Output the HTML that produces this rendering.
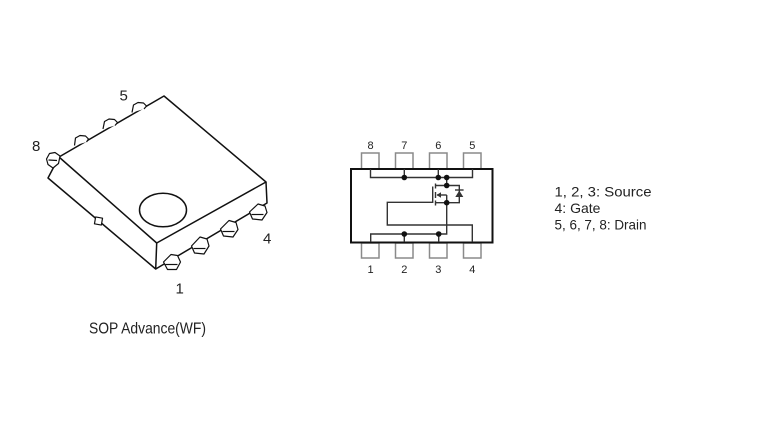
<!DOCTYPE html>
<html>
<head>
<meta charset="utf-8">
<style>
html,body{margin:0;padding:0;background:#fff;}
svg{display:block;}
</style>
</head>
<body>
<svg width="768" height="432" viewBox="0 0 768 432" xmlns="http://www.w3.org/2000/svg">
<rect width="768" height="432" fill="#fff"/>
<g fill="none" stroke="#111" stroke-width="1.5" stroke-linejoin="round">
  <polygon points="59,157 164,96 266,182 156.7,243" fill="#fff"/>
  <polyline points="59,157 48,178 155.7,269 156.7,243"/>
  <polyline points="266,182 267,203 155.7,269"/>
  <ellipse cx="163" cy="210" rx="23.5" ry="16.8"/>
</g>
<g fill="#fff" stroke="#111" stroke-width="1.2" stroke-linejoin="round">
  <path d="M74.5,145.5 L75.5,138 L80,135.5 L85.5,136 L88.5,139 L86.5,142"/>
  <path d="M103,129 L104.5,121.5 L109,119 L114.5,119.5 L117.5,122.5 L115,125.5"/>
  <path d="M132,112.5 L133.5,105 L138,102.5 L143.5,103 L146.5,106 L144,109"/>
  <path d="M46.5,159 L49.5,153.5 L55,152.5 L60,156 L58.5,163.5 L53,168 L48,164.5 Z"/>
  <line x1="48.5" y1="160" x2="57" y2="160.5"/>
  <rect x="95" y="217.5" width="7" height="7" transform="rotate(10 98.5 221)"/>
  <g>
    <path d="M163.5,262 L171,254.5 L177.5,255.5 L180.5,262 L176.5,269.5 L167.5,269.5 Z"/>
    <line x1="165.5" y1="264.5" x2="177.5" y2="264.5"/>
  </g>
  <g>
    <path d="M191.5,246 L200,237 L207,239 L209,246 L204,254 L194.5,253 Z"/>
    <line x1="193.5" y1="248.5" x2="205.5" y2="248.5"/>
  </g>
  <g>
    <path d="M220.5,229 L229,220.5 L236,222.5 L238,229.5 L233,237 L223.5,236 Z"/>
    <line x1="222.5" y1="231.5" x2="234.5" y2="231.5"/>
  </g>
  <g>
    <path d="M249.5,212 L258,204 L265,206 L267,212.5 L262,220 L252.5,219 Z"/>
    <line x1="251.5" y1="214.5" x2="263.5" y2="214.5"/>
  </g>
</g>
<g font-family="Liberation Sans, sans-serif" font-size="15" fill="#222">
  <text x="119.5" y="100.5">5</text>
  <text x="32" y="151">8</text>
  <text x="263" y="243.5">4</text>
  <text x="175.5" y="293.5">1</text>
</g>
<text x="89" y="333.5" font-family="Liberation Sans, sans-serif" font-size="16" fill="#222" textLength="117" lengthAdjust="spacingAndGlyphs">SOP Advance(WF)</text>

<g fill="#fff" stroke="#8a8a8a" stroke-width="1.5">
  <rect x="361.5" y="153" width="17.5" height="16"/>
  <rect x="395.5" y="153" width="17.5" height="16"/>
  <rect x="429.5" y="153" width="17.5" height="16"/>
  <rect x="463.5" y="153" width="17.5" height="16"/>
  <rect x="361.5" y="243" width="17.5" height="15"/>
  <rect x="395.5" y="243" width="17.5" height="15"/>
  <rect x="429.5" y="243" width="17.5" height="15"/>
  <rect x="463.5" y="243" width="17.5" height="15"/>
</g>
<rect x="351" y="169" width="141.5" height="73.5" fill="none" stroke="#111" stroke-width="2"/>
<g fill="none" stroke="#333" stroke-width="1.4">
  <polyline points="370.5,169 370.5,177.5 472.5,177.5 472.5,169"/>
  <line x1="404.3" y1="169" x2="404.3" y2="177.5"/>
  <line x1="438.3" y1="169" x2="438.3" y2="177.5"/>
  <polyline points="446.7,177.5 446.7,185.5"/>
  <polyline points="436,185.5 459.3,185.5 459.3,202.7 436,202.7"/>
  <line x1="432.7" y1="186.5" x2="432.7" y2="203"/>
  <polyline points="432.7,202.3 387.3,202.3 387.3,225 472.3,225 472.3,242"/>
  <line x1="435.5" y1="183.5" x2="435.5" y2="188.5"/>
  <line x1="435.5" y1="192" x2="435.5" y2="198"/>
  <line x1="435.5" y1="200.5" x2="435.5" y2="205.5"/>
  <line x1="437" y1="195" x2="446.7" y2="195"/>
  <line x1="446.7" y1="195" x2="446.7" y2="202.7"/>
  <polyline points="446.7,202.7 446.7,234 370.7,234 370.7,242"/>
  <line x1="404.3" y1="234" x2="404.3" y2="242"/>
  <line x1="438.7" y1="234" x2="438.7" y2="242"/>
  <line x1="455" y1="190" x2="463.6" y2="190"/>
</g>
<polygon points="459.3,190.5 455.3,197 463.3,197" fill="#333"/>
<polygon points="436.5,195 441,192.3 441,197.7" fill="#333"/>
<g fill="#111">
  <circle cx="404.3" cy="177.5" r="2.8"/>
  <circle cx="438.3" cy="177.5" r="2.8"/>
  <circle cx="446.7" cy="177.5" r="2.8"/>
  <circle cx="446.7" cy="185.5" r="2.8"/>
  <circle cx="446.7" cy="202.7" r="2.8"/>
  <circle cx="404.3" cy="234" r="2.8"/>
  <circle cx="438.7" cy="234" r="2.8"/>
</g>
<g font-family="Liberation Sans, sans-serif" font-size="11" fill="#222" text-anchor="middle">
  <text x="370.5" y="149">8</text>
  <text x="404.3" y="149">7</text>
  <text x="438.3" y="149">6</text>
  <text x="472.3" y="149">5</text>
  <text x="370.5" y="273">1</text>
  <text x="404.3" y="273">2</text>
  <text x="438.3" y="273">3</text>
  <text x="472.3" y="273">4</text>
</g>
<g font-family="Liberation Sans, sans-serif" font-size="14" fill="#222">
  <text x="554.5" y="196.5" textLength="97" lengthAdjust="spacingAndGlyphs">1, 2, 3: Source</text>
  <text x="554.5" y="213">4: Gate</text>
  <text x="554.5" y="229.5" textLength="92" lengthAdjust="spacingAndGlyphs">5, 6, 7, 8: Drain</text>
</g>
</svg>
</body>
</html>
